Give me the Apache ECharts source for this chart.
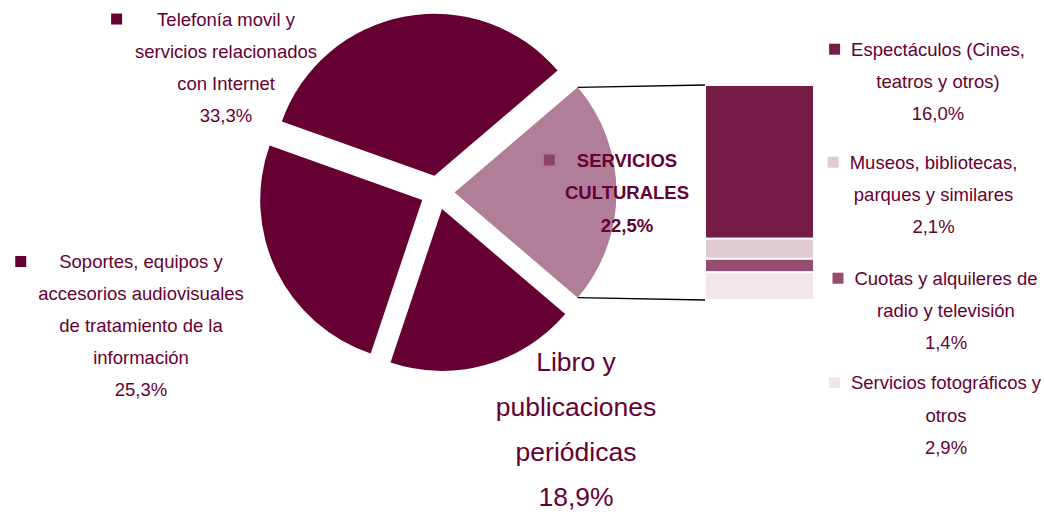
<!DOCTYPE html>
<html><head><meta charset="utf-8">
<script src="https://cdn.jsdelivr.net/npm/echarts@6/dist/echarts.min.js"></script>
<style>html,body{margin:0;padding:0;background:#fff}#c{width:1044px;height:512px}</style>
</head><body><div id="c"></div>
<script>
// ---- DATA ----
// Pie: main groups, listed clockwise starting with the broken-out group
const pieCategories = [
  'SERVICIOS\nCULTURALES',
  'Libro y\npublicaciones\nperiódicas',
  'Soportes, equipos y\naccesorios audiovisuales\nde tratamiento de la\ninformación',
  'Telefonía movil y\nservicios relacionados\ncon Internet'
];
const pieValues = [22.5, 18.9, 25.3, 33.3];
// Breakdown bar of SERVICIOS CULTURALES, top to bottom
const barCategories = [
  'Espectáculos (Cines,\nteatros y otros)',
  'Museos, bibliotecas,\nparques y similares',
  'Cuotas y alquileres de\nradio y televisión',
  'Servicios fotográficos y\notros'
];
const barValues = [16.0, 2.1, 1.4, 2.9];

// ---- STYLE / LAYOUT ----
const TEXT = '#660033';
const FONT = '"Liberation Sans", Arial, sans-serif';
const pieColors = ['#B07F97', '#660033', '#660033', '#660033'];
const pieMarkerColors = ['#8E4468', null, '#660033', '#660033'];
const pieMarkerGap = [22, 0, 33, 35];
const pieLabelPos = [[627, 192.5], [576, 429.5], [141, 325.5], [226, 67.5]];
const pieLabelFont = [
  {fontSize: 18.5, lineHeight: 32.5, fontWeight: 'bold'},
  {fontSize: 26.5, lineHeight: 45, fontWeight: 'normal'},
  {fontSize: 18.5, lineHeight: 32, fontWeight: 'normal'},
  {fontSize: 18.5, lineHeight: 32.3, fontWeight: 'normal'}
];
const barColors = ['#761B45', '#E0CBD5', '#954C70', '#F2E6EC'];
const barLabelPos = [[938, 81.5], [933.5, 194.5], [946, 310.5], [946, 415]];
const PIE_CENTER = [437.5, 192.5], PIE_R = 162, PIE_OFF = 17;
const GRID = {left: 705, top: 85, width: 109, height: 215};

const fmt = v => v.toFixed(1).replace('.', ',') + '%';
const sum = a => a.reduce((s, v) => s + v, 0);
const pieTotal = sum(pieValues);
const barTotal = sum(barValues);
const halfAngle = 180 * pieValues[0] / pieTotal; // first slice centred on 0°

function richLabel(name, value, hasMarker) {
  const lines = name.split('\n');
  if (hasMarker) lines[0] = '{m|}{g|}' + lines[0] + '{g|}{e|}';
  lines.push(fmt(value));
  return lines.join('\n');
}

const chart = echarts.init(document.getElementById('c'), null, {renderer: 'svg'});

const pieData = pieCategories.map((n, i) => ({
  name: n, value: pieValues[i], selected: true, itemStyle: {color: pieColors[i]}
}));

const barSeries = [];
for (let k = barValues.length - 1; k >= 0; k--) {
  barSeries.push({
    type: 'bar',
    name: barCategories[k],
    stack: 'cult',
    barWidth: '100%',
    data: [barValues[k]],
    itemStyle: {color: barColors[k], borderColor: '#fff', borderWidth: 1},
    label: {
      show: true,
      position: 'inside',
      color: TEXT, fontFamily: FONT, fontSize: 18.5, lineHeight: 32.3, align: 'center',
      formatter: () => richLabel(barCategories[k], barValues[k], true),
      rich: {
        m: {width: 11, height: 11, backgroundColor: barColors[k]},
        g: {width: 11},
        e: {width: 11}
      }
    },
    labelLayout: () => ({x: barLabelPos[k][0], y: barLabelPos[k][1], align: 'center', verticalAlign: 'middle'}),
    emphasis: {disabled: true},
    silent: true
  });
}

// Pie labels (data labels placed freely around the pie)
const pieLabelGraphics = pieCategories.map((n, i) => ({
  type: 'text',
  x: pieLabelPos[i][0],
  y: pieLabelPos[i][1],
  silent: true,
  z: 10,
  style: {
    text: richLabel(n, pieValues[i], !!pieMarkerColors[i]),
    fill: TEXT,
    fontFamily: FONT,
    fontSize: pieLabelFont[i].fontSize,
    fontWeight: pieLabelFont[i].fontWeight,
    lineHeight: pieLabelFont[i].lineHeight,
    align: 'center',
    verticalAlign: 'middle',
    rich: {
      m: {width: 11, height: 11, backgroundColor: pieMarkerColors[i] || 'transparent'},
      g: {width: pieMarkerGap[i]},
      e: {width: 11}
    }
  }
}));

chart.setOption({
  animation: false,
  backgroundColor: '#fff',
  textStyle: {fontFamily: FONT},
  grid: GRID,
  xAxis: {type: 'category', data: ['SERVICIOS CULTURALES'], show: false},
  yAxis: {type: 'value', min: 0, max: barTotal, show: false},
  series: [{
    type: 'pie',
    center: PIE_CENTER,
    radius: PIE_R,
    startAngle: halfAngle,
    clockwise: true,
    selectedMode: 'multiple',
    selectedOffset: PIE_OFF,
    silent: true,
    emphasis: {disabled: true},
    label: {show: false},
    labelLine: {show: false},
    data: pieData
  }].concat(barSeries)
});

// Connector lines from the broken-out slice to the breakdown bar
const a = halfAngle * Math.PI / 180;
const apexX = PIE_CENTER[0] + PIE_OFF, apexY = PIE_CENTER[1];
const topPt = [apexX + PIE_R * Math.cos(a), apexY - PIE_R * Math.sin(a)];
const botPt = [apexX + PIE_R * Math.cos(a), apexY + PIE_R * Math.sin(a)];
const barTopY = chart.convertToPixel({yAxisIndex: 0}, barTotal);
const barBotY = chart.convertToPixel({yAxisIndex: 0}, 0);
chart.setOption({
  graphic: [
    {type: 'line', shape: {x1: topPt[0], y1: topPt[1], x2: GRID.left, y2: barTopY}, style: {stroke: '#000', lineWidth: 1.3}, silent: true},
    {type: 'line', shape: {x1: botPt[0], y1: botPt[1], x2: GRID.left, y2: barBotY}, style: {stroke: '#000', lineWidth: 1.3}, silent: true}
  ].concat(pieLabelGraphics)
});
</script>
</body></html>
